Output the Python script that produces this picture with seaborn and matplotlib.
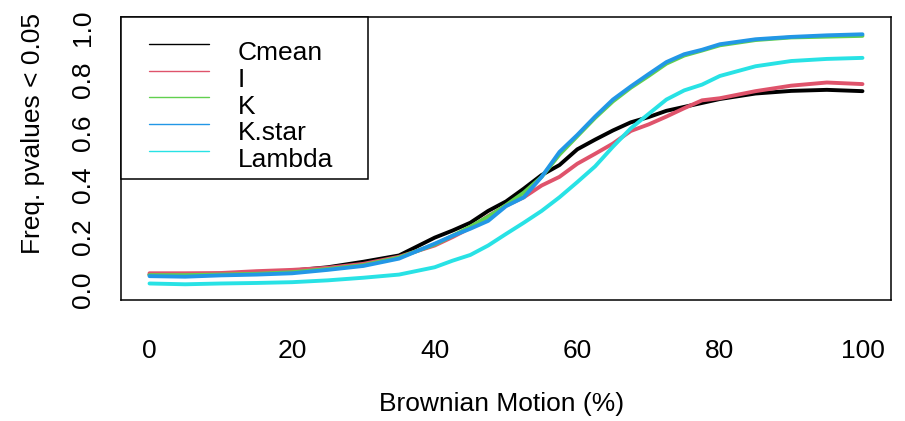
import numpy as np
import pandas as pd
import matplotlib
matplotlib.use("Agg")
import matplotlib.pyplot as plt
import seaborn as sns

# ---- data ----
brownian = [0, 5, 10, 15, 20, 25, 30, 35, 40, 42.5, 45, 47.5, 50, 52.5, 55, 57.5,
            60, 62.5, 65, 67.5, 70, 72.5, 75, 77.5, 80, 85, 90, 95, 100]

cmean = [0.057, 0.058, 0.060, 0.063, 0.072, 0.085, 0.106, 0.130, 0.198, 0.225,
         0.255, 0.300, 0.336, 0.385, 0.437, 0.475, 0.535, 0.572, 0.607, 0.638,
         0.658, 0.682, 0.697, 0.712, 0.727, 0.748, 0.758, 0.762, 0.757]

i_vals = [0.062, 0.062, 0.063, 0.070, 0.075, 0.083, 0.098, 0.125, 0.168, 0.200,
          0.235, 0.280, 0.320, 0.352, 0.397, 0.430, 0.480, 0.518, 0.557, 0.605,
          0.630, 0.660, 0.692, 0.722, 0.730, 0.757, 0.778, 0.790, 0.784]

k_vals = [0.055, 0.055, 0.057, 0.060, 0.066, 0.078, 0.093, 0.122, 0.172, 0.205,
          0.240, 0.278, 0.322, 0.370, 0.430, 0.515, 0.585, 0.655, 0.718, 0.770,
          0.815, 0.862, 0.893, 0.912, 0.932, 0.952, 0.962, 0.965, 0.968]

kstar = [0.051, 0.049, 0.054, 0.057, 0.062, 0.075, 0.090, 0.118, 0.175, 0.205,
         0.232, 0.262, 0.318, 0.352, 0.430, 0.525, 0.590, 0.660, 0.725, 0.775,
         0.822, 0.868, 0.898, 0.915, 0.936, 0.955, 0.964, 0.970, 0.974]

lambda_vals = [0.023, 0.020, 0.023, 0.025, 0.028, 0.035, 0.045, 0.057, 0.085, 0.110,
               0.132, 0.168, 0.212, 0.255, 0.300, 0.352, 0.410, 0.470, 0.545, 0.615,
               0.670, 0.725, 0.760, 0.782, 0.815, 0.852, 0.872, 0.880, 0.884]

methods = ["Cmean", "I", "K", "K.star", "Lambda"]
colors = ["#000000", "#DF536B", "#61D04F", "#2297E6", "#28E2E5"]
x_ticks = [0, 20, 40, 60, 80, 100]
y_ticks = [0.0, 0.2, 0.4, 0.6, 0.8, 1.0]
y_ticklabels = ["0.0", "0.2", "0.4", "0.6", "0.8", "1.0"]

series = [cmean, i_vals, k_vals, kstar, lambda_vals]
df = pd.concat(
    [pd.DataFrame({"Brownian": brownian, "freq": s, "method": m})
     for m, s in zip(methods, series)],
    ignore_index=True,
)
palette = dict(zip(methods, colors))

# ---- styling ----
sns.set_style("white")
plt.rcParams["font.family"] = ["Liberation Sans", "DejaVu Sans"]
plt.rcParams["text.color"] = "black"
plt.rcParams["axes.labelcolor"] = "black"
plt.rcParams["xtick.color"] = "black"
plt.rcParams["ytick.color"] = "black"
FS = 19

fig = plt.figure(figsize=(9.05, 4.21), dpi=100)
ax = fig.add_axes([121 / 905, 121 / 421, 770 / 905, 283 / 421])

sns.lineplot(data=df, x="Brownian", y="freq", hue="method", hue_order=methods,
             palette=palette, estimator=None, sort=False, linewidth=2.8, ax=ax)

ax.set_xlim(-4, 104)
ax.set_ylim(-0.04, 1.04)
ax.set_xticks(x_ticks)
ax.set_xticklabels([str(t) for t in x_ticks])
ax.set_yticks(y_ticks)
ax.set_yticklabels(y_ticklabels, rotation=90, va="center")

for sp in ax.spines.values():
    sp.set_visible(True)
    sp.set_color("black")
    sp.set_linewidth(1.1)

ax.tick_params(axis="both", direction="out", length=9, width=1.1, color="black",
               labelsize=FS, labelcolor="black")
ax.tick_params(axis="x", pad=19)
ax.tick_params(axis="y", pad=9.5)

ax.set_xlabel("Brownian Motion (%)", fontsize=FS, va="center", color="black")
ax.xaxis.set_label_coords(0.494, -0.367)
ax.set_ylabel("Freq. pvalues < 0.05", fontsize=FS, va="center", color="black")
ax.yaxis.set_label_coords(-0.114, 0.587)

handles, labels = ax.get_legend_handles_labels()
old = ax.get_legend()
if old is not None:
    old.remove()
leg = ax.legend(handles, labels, loc="upper left", bbox_to_anchor=(0, 1, 0.321, 0),
                bbox_transform=ax.transAxes, mode="expand", borderaxespad=0,
                borderpad=0.254, labelspacing=0.1, handlelength=3.3,
                handletextpad=0.86, fontsize=FS, frameon=True, fancybox=False,
                edgecolor="black", framealpha=1, labelcolor="black",
                title=" ", title_fontsize=12.5)
leg.get_frame().set_linewidth(1.1)
for line in leg.get_lines():
    y0 = float(np.asarray(line.get_ydata(), dtype=float)[0]) + 5
    line.set_linewidth(1.0)
    line.set_data([15.5, 58.5], [y0, y0])

fig.savefig("out.png", dpi=100)
